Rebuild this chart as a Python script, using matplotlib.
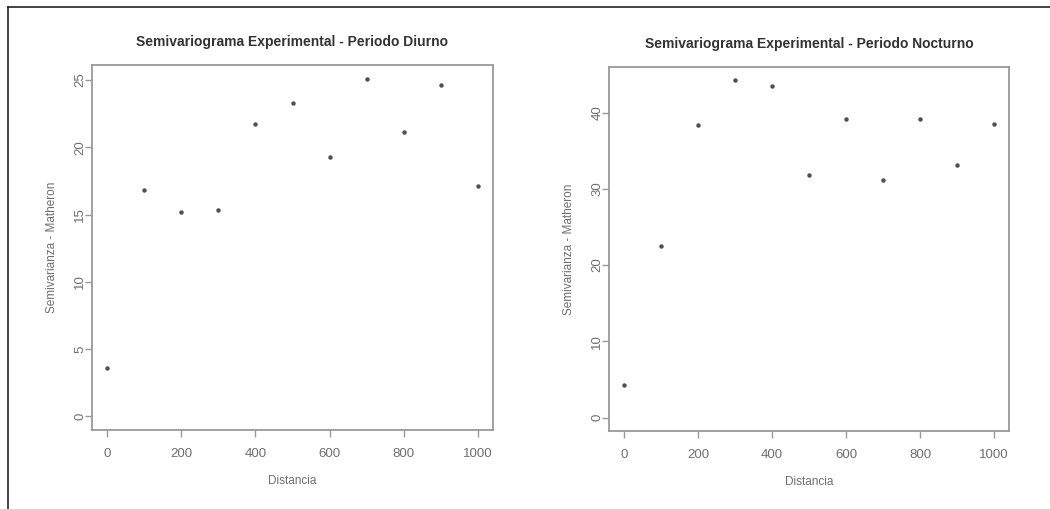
import matplotlib
matplotlib.use("Agg")
import matplotlib.pyplot as plt
from matplotlib.lines import Line2D

# lag distances and experimental semivariance (Matheron estimator)
distancia = [0, 100, 200, 300, 400, 500, 600, 700, 800, 900, 1000]
gamma_diurno = [3.6, 16.8, 15.2, 15.35, 21.7, 23.3, 19.3, 25.1, 21.1, 24.6, 17.1]
gamma_nocturno = [4.3, 22.5, 38.4, 44.2, 43.5, 31.8, 39.1, 31.2, 39.1, 33.1, 38.5]

titulos = ["Semivariograma Experimental - Periodo Diurno",
           "Semivariograma Experimental - Periodo Nocturno"]
yticks_diurno = [0, 5, 10, 15, 20, 25]
yticks_nocturno = [0, 10, 20, 30, 40]
xticks = [0, 200, 400, 600, 800, 1000]

plt.rcParams["font.family"] = ["Liberation Sans", "DejaVu Sans"]

AXIS_GREY = "#9a9a9a"
TEXT_GREY = "#6e6e6e"

fig = plt.figure(figsize=(10.5, 5.09), dpi=100)
W, H = 1050, 509

# panel rectangles in pixels: left, top, right, bottom
boxes = [(92, 65, 493, 430), (609, 67, 1009, 431)]
series = [gamma_diurno, gamma_nocturno]
yticks_all = [yticks_diurno, yticks_nocturno]

for (l, t, r, b), gam, yt, titulo in zip(boxes, series, yticks_all, titulos):
    ax = fig.add_axes([l / W, 1 - b / H, (r - l) / W, (b - t) / H])
    ax.plot(distancia, gam, "o", color="#505050", markersize=3.2, markeredgewidth=0)

    # R style 4% padding, y range anchored at zero
    ymax = max(gam)
    ax.set_xlim(-40, 1040)
    ax.set_ylim(-0.04 * ymax, ymax * 1.04)

    ax.set_xticks(xticks)
    ax.set_yticks(yt)
    ax.set_yticklabels([str(v) for v in yt], rotation=90, va="center")
    ax.tick_params(direction="out", length=5, width=1, color=AXIS_GREY,
                   labelcolor=TEXT_GREY, labelsize=9.5)
    ax.tick_params(axis="x", pad=8)
    ax.tick_params(axis="y", pad=-1)
    for s in ax.spines.values():
        s.set_color(AXIS_GREY)
        s.set_linewidth(1.3)

    ax.set_xlabel("Distancia", color=TEXT_GREY, fontsize=8.5, labelpad=11)
    ax.set_ylabel("Semivarianza - Matheron", color=TEXT_GREY, fontsize=8.5, labelpad=12)
    ax.set_title(titulo, fontsize=10, fontweight="bold", color="#333333", pad=14)

# thin frame around the figure (top and left edges)
fig.add_artist(Line2D([8 / W, 1], [1 - 7 / H, 1 - 7 / H], color="#222222", linewidth=1.2,
                      transform=fig.transFigure))
fig.add_artist(Line2D([8 / W, 8 / W], [0, 1 - 7 / H], color="#222222", linewidth=1.2,
                      transform=fig.transFigure))

fig.savefig("out.png", dpi=100)
